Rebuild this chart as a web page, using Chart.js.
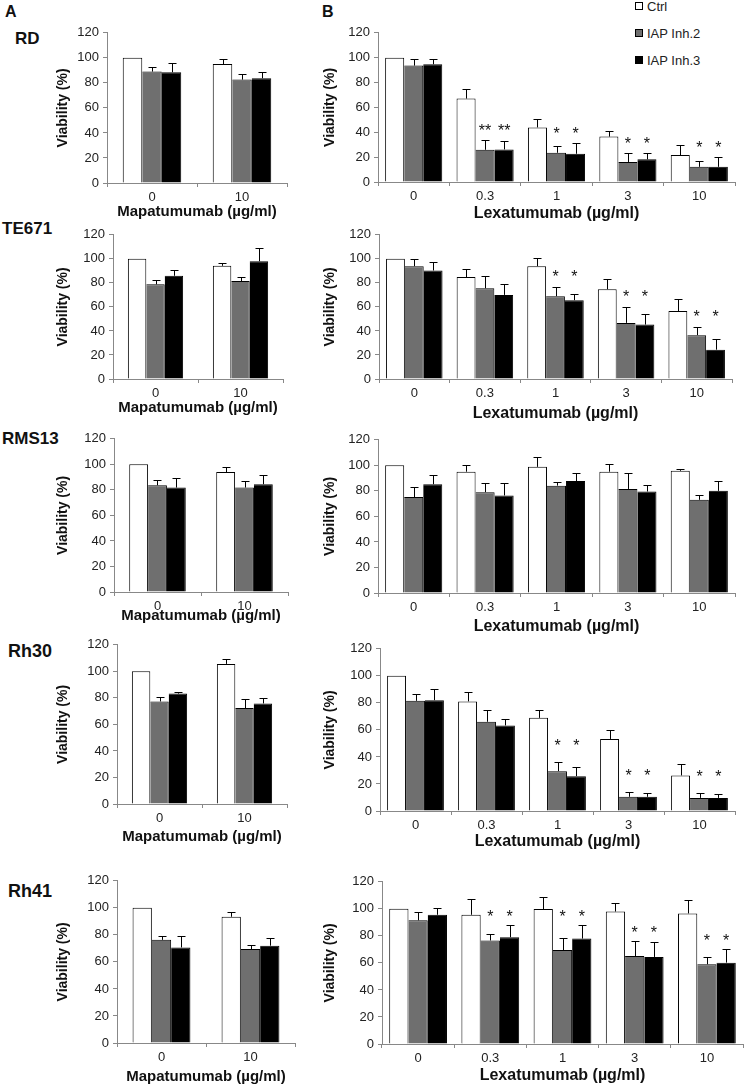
<!DOCTYPE html>
<html>
<head>
<meta charset="utf-8">
<script src="https://cdn.jsdelivr.net/npm/chart.js@4.4.1/dist/chart.umd.min.js"></script>
<style>
  body { margin: 0; background: #fff; width: 745px; height: 1086px; position: relative; overflow: hidden;
         font-family: "Liberation Sans", Arial, sans-serif; }
  canvas { position: absolute; }
  .lbl { position: absolute; font-weight: bold; color: #111; line-height: 1; white-space: nowrap; }
  .leg { position: absolute; left: 635px; height: 14px; display: flex; align-items: center;
         font-size: 13px; color: #222; white-space: nowrap; }
  .leg i { display: inline-block; width: 6px; height: 6px; border: 1px solid #000; margin-right: 4px; }
</style>
</head>
<body>
<div class="lbl" style="left:5px;top:4px;font-size:16px">A</div>
<div class="lbl" style="left:322px;top:4px;font-size:16px">B</div>
<div class="lbl" style="left:15px;top:30px;font-size:17px">RD</div>
<div class="lbl" style="left:2px;top:220px;font-size:17px">TE671</div>
<div class="lbl" style="left:2px;top:430px;font-size:17px">RMS13</div>
<div class="lbl" style="left:8px;top:642px;font-size:18px">Rh30</div>
<div class="lbl" style="left:8px;top:882px;font-size:18px">Rh41</div>

<div class="leg" style="top:-1px"><i style="background:#fff"></i>Ctrl</div>
<div class="leg" style="top:26px"><i style="background:#6f6f6f"></i>IAP Inh.2</div>
<div class="leg" style="top:53px"><i style="background:#000"></i>IAP Inh.3</div>

<script>
// categories
const mapaDoses = ['0', '10'];
const lexaDoses = ['0', '0.3', '1', '3', '10'];
const seriesNames = ['Ctrl', 'IAP Inh.2', 'IAP Inh.3'];
const seriesColors = ['#ffffff', '#6f6f6f', '#000000'];

// RD
const rdMapaMean = [[100, 95], [89, 82.6], [88.5, 83.7]];
const rdMapaErr  = [[0, 3.7], [3.6, 4.8], [7, 5.3]];
const rdLexaMean = [[100, 67.1, 43.9, 36.5, 21.7], [93.6, 25.9, 23.5, 16.1, 12.2], [94.7, 26.2, 22.7, 18.2, 12.2]];
const rdLexaErr  = [[0, 7.4, 6.6, 4.7, 8.2], [5, 7.9, 5.3, 7.4, 4.5], [4, 6.6, 8.8, 5.3, 7.8]];
const rdLexaStars = ['', '**', '*', '*', '*'];

// TE671
const teMapaMean = [[100, 94.2], [78.8, 81.5], [85.9, 98]];
const teMapaErr  = [[0, 2.7], [3.6, 3.3], [4.7, 11]];
const teLexaMean = [[100, 84.8, 93.9, 74.7, 56.6], [93.9, 75.5, 68.9, 46.7, 36.5], [90.3, 70, 65.6, 45.3, 24.4]];
const teLexaErr  = [[0, 6.4, 6.9, 8.2, 9.8], [6.1, 10.5, 7.7, 12.9, 6.6], [7.4, 9.4, 5.2, 8.8, 9.1]];
const teLexaStars = ['', '', '*', '*', '*'];

// RMS13
const rmsMapaMean = [[100, 93.9], [83.6, 81.8], [81.8, 84.4]];
const rmsMapaErr  = [[0, 4.4], [4.1, 4.9], [7.7, 7.2]];
const rmsLexaMean = [[100, 95, 98.8, 95, 95.7], [75.1, 79, 84.1, 81.5, 73], [85.2, 76.4, 87.7, 79.5, 80]];
const rmsLexaErr  = [[0, 5.1, 8, 5.9, 1.1], [8.3, 7.2, 2.6, 12.4, 3.4], [7.2, 9.8, 6.2, 4.9, 7.7]];
const rmsLexaStars = ['', '', '', '', ''];

// Rh30
const rh30MapaMean = [[100, 105.6], [77.3, 72.3], [83.2, 75.8]];
const rh30MapaErr  = [[0, 3.7], [3.4, 6.5], [1, 4.4]];
const rh30LexaMean = [[100, 81.1, 68.9, 53.3, 26.3], [81.5, 66, 29.5, 10.5, 9.7], [82, 63.3, 25.8, 10.5, 9.7]];
const rh30LexaErr  = [[0, 6.8, 6.1, 6.8, 8.5], [4.9, 9, 6.5, 3.6, 3.7], [8.3, 4.9, 7.1, 2.9, 2.7]];
const rh30LexaStars = ['', '', '*', '*', '*'];

// Rh41
const rh41MapaMean = [[100, 93.4], [76.3, 69.5], [70.7, 72]];
const rh41MapaErr  = [[0, 3.7], [3.2, 2.7], [8.8, 6]];
const rh41LexaMean = [[100, 95.6, 99.8, 98, 96.6], [91.5, 76.6, 69.5, 65.1, 59], [95.6, 79, 78, 64.4, 60.2]];
const rh41LexaErr  = [[0, 11.4, 9, 6.6, 10], [6.5, 4.9, 9, 11, 5.1], [4.9, 9.3, 10.3, 11, 10]];
const rh41LexaStars = ['', '*', '*', '*', '*'];

Chart.defaults.font.family = '"Liberation Sans", Arial, sans-serif';

// error bars (upper only) + significance stars over the inhibitor bars
const errorBars = {
  id: 'errorBars',
  afterDatasetsDraw(chart, args, opts) {
    const ctx = chart.ctx, y = chart.scales.y;
    ctx.save();
    ctx.strokeStyle = '#000';
    ctx.lineWidth = 1;
    chart.data.datasets.forEach((ds, di) => {
      chart.getDatasetMeta(di).data.forEach((bar, i) => {
        if (!ds.err[i]) return;
        const top = Math.round(y.getPixelForValue(ds.data[i] + ds.err[i])) + 0.5;
        const x = Math.round(bar.x) + 0.5;
        ctx.beginPath();
        ctx.moveTo(x, bar.y);
        ctx.lineTo(x, top);
        ctx.moveTo(x - 4, top);
        ctx.lineTo(x + 4, top);
        ctx.stroke();
      });
    });
    const stars = opts.stars || [];
    ctx.fillStyle = '#111';
    ctx.font = '16px "Liberation Sans", Arial, sans-serif';
    ctx.textAlign = 'center';
    ctx.textBaseline = 'alphabetic';
    stars.forEach((s, i) => {
      if (!s) return;
      const tops = [1, 2].map(d => {
        const ds = chart.data.datasets[d];
        return y.getPixelForValue(ds.data[i] + ds.err[i]);
      });
      const cy = Math.min(...tops) - opts.gap;
      [1, 2].forEach(d => {
        ctx.fillText(s, chart.getDatasetMeta(d).data[i].x, cy + 9);
      });
    });
    ctx.restore();
  }
};

function makeChart(g, labels, means, errs, stars, xTitle, xSize) {
  const cv = document.createElement('canvas');
  const top = g.t - 10;
  cv.width = g.r + 2 - g.cx;
  cv.height = g.cb - top;
  cv.style.left = g.cx + 'px';
  cv.style.top = top + 'px';
  document.body.appendChild(cv);

  const datasets = seriesNames.map((name, i) => ({
    label: name,
    data: means[i],
    err: errs[i],
    backgroundColor: seriesColors[i],
    borderColor: '#000',
    borderWidth: i === 0 ? 1 : { top: 1, right: 1, left: 0, bottom: 0 },
    categoryPercentage: g.cat,
    barPercentage: 1
  }));

  new Chart(cv, {
    type: 'bar',
    data: { labels: labels, datasets: datasets },
    options: {
      responsive: false,
      animation: false,
      devicePixelRatio: 1,
      layout: { padding: { top: 10, right: 2, left: 0, bottom: 0 } },
      plugins: {
        legend: { display: false },
        tooltip: { enabled: false },
        errorBars: { stars: stars, gap: g.gap }
      },
      scales: {
        x: {
          grid: { drawOnChartArea: false, tickLength: 4, color: '#888', offset: true },
          border: { color: '#888' },
          ticks: { color: '#222', font: { size: 13 }, padding: 3 },
          title: { display: true, text: xTitle, color: '#111', font: { size: xSize, weight: 'bold' }, padding: 0 },
          afterFit: s => { s.height = g.cb - g.b; }
        },
        y: {
          min: 0,
          max: 120,
          ticks: { stepSize: 20, color: '#222', font: { size: 13 }, padding: 4 },
          grid: { drawOnChartArea: false, tickLength: 4, color: '#888' },
          border: { color: '#888' },
          title: { display: true, text: 'Viability (%)', color: '#111', font: { size: 14, weight: 'bold' }, padding: 0 },
          afterFit: s => { s.width = g.l - g.cx; }
        }
      }
    },
    plugins: [errorBars]
  });
}

const MAPA = 'Mapatumumab (µg/ml)';
const LEXA = 'Lexatumumab (µg/ml)';

// panel A (left column)
makeChart({ cx: 55, l: 107, r: 287, t: 31, b: 183, cb: 221, cat: 0.65, gap: 13 }, mapaDoses, rdMapaMean, rdMapaErr, [], MAPA, 15);
makeChart({ cx: 55, l: 113, r: 283, t: 233, b: 379, cb: 417, cat: 0.65, gap: 13 }, mapaDoses, teMapaMean, teMapaErr, [], MAPA, 15);
makeChart({ cx: 55, l: 114, r: 288, t: 437, b: 592, cb: 625, cat: 0.65, gap: 13 }, mapaDoses, rmsMapaMean, rmsMapaErr, [], MAPA, 15);
makeChart({ cx: 55, l: 117, r: 287, t: 643, b: 804, cb: 846, cat: 0.65, gap: 13 }, mapaDoses, rh30MapaMean, rh30MapaErr, [], MAPA, 15);
makeChart({ cx: 55, l: 117, r: 295, t: 879, b: 1043, cb: 1086, cat: 0.65, gap: 13 }, mapaDoses, rh41MapaMean, rh41MapaErr, [], MAPA, 15);

// panel B (right column)
makeChart({ cx: 322, l: 378, r: 735, t: 31, b: 182, cb: 223, cat: 0.8, gap: 13 }, lexaDoses, rdLexaMean, rdLexaErr, rdLexaStars, LEXA, 16);
makeChart({ cx: 322, l: 379, r: 732, t: 233, b: 379, cb: 423, cat: 0.8, gap: 14 }, lexaDoses, teLexaMean, teLexaErr, teLexaStars, LEXA, 16);
makeChart({ cx: 322, l: 378, r: 735, t: 438, b: 593, cb: 636, cat: 0.8, gap: 13 }, lexaDoses, rmsLexaMean, rmsLexaErr, rmsLexaStars, LEXA, 16);
makeChart({ cx: 322, l: 380, r: 735, t: 647, b: 811, cb: 851, cat: 0.8, gap: 20 }, lexaDoses, rh30LexaMean, rh30LexaErr, rh30LexaStars, LEXA, 16);
makeChart({ cx: 322, l: 382, r: 743, t: 880, b: 1044, cb: 1085, cat: 0.8, gap: 12 }, lexaDoses, rh41LexaMean, rh41LexaErr, rh41LexaStars, LEXA, 16);
</script>
</body>
</html>
